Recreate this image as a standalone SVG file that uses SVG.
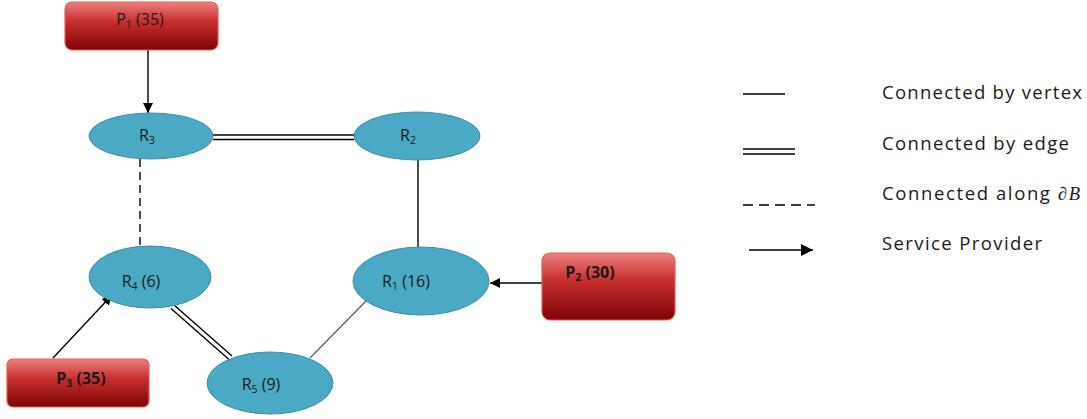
<svg xmlns="http://www.w3.org/2000/svg" width="1087" height="419" viewBox="0 0 1087 419">
<defs>
<linearGradient id="red" x1="0" y1="0" x2="0" y2="1">
<stop offset="0" stop-color="#ee8080"/>
<stop offset="0.4" stop-color="#c8302f"/>
<stop offset="1" stop-color="#7e0404"/>
</linearGradient>
<marker id="arr" viewBox="0 0 10 10" refX="10" refY="5" markerWidth="10" markerHeight="10" markerUnits="userSpaceOnUse" orient="auto">
<path d="M0,0 L10,5 L0,10 z" fill="#000"/>
</marker>
<marker id="arrL" viewBox="0 0 10 10" refX="10" refY="5" markerWidth="12" markerHeight="12" markerUnits="userSpaceOnUse" orient="auto">
<path d="M0,0 L10,5 L0,10 z" fill="#000"/>
</marker>
</defs>
<style>
.ell{fill:#4aaac6;stroke:#3b8ea8;stroke-width:1}
.box{fill:url(#red);stroke:#e85a5a;stroke-width:1.2}
.lbl{font-family:"Open Sans","Liberation Sans",sans-serif;font-size:16px;fill:#1a1a1a;text-anchor:middle}
.bold{font-weight:bold}
.ln{stroke:#000;stroke-width:1.4;fill:none}
.thin{stroke:#555;stroke-width:1.1;fill:none}
.leg{font-family:"Open Sans","Liberation Sans",sans-serif;font-size:18.5px;fill:#1a1a1a}
</style>
<rect width="1087" height="419" fill="#fff"/>

<g id="connectors">
<line class="ln" x1="148" y1="50" x2="148" y2="113" marker-end="url(#arr)"/>
<line class="ln" x1="213" y1="135" x2="354" y2="135"/>
<line class="ln" x1="213" y1="139.5" x2="354" y2="139.5"/>
<line class="ln" x1="140" y1="159" x2="140" y2="248" stroke-dasharray="8,5"/>
<line class="ln" x1="418" y1="160" x2="418" y2="248"/>
<line class="ln" x1="543" y1="283" x2="490" y2="283" marker-end="url(#arr)"/>
<line class="ln" x1="53" y1="358" x2="112" y2="295" marker-end="url(#arr)"/>
<line class="ln" x1="174" y1="305" x2="232" y2="356"/>
<line class="ln" x1="171" y1="308.5" x2="229" y2="359.5"/>
<line class="thin" x1="366" y1="301" x2="310" y2="358"/>
</g>

<g id="R3"><ellipse class="ell" cx="151" cy="136" rx="62" ry="23"/><text class="lbl" x="147" y="141">R<tspan font-size="10.5" dy="3">3</tspan></text></g>
<g id="R2"><ellipse class="ell" cx="417" cy="136" rx="63" ry="24"/><text class="lbl" x="408" y="141">R<tspan font-size="10.5" dy="3">2</tspan></text></g>
<g id="R4"><ellipse class="ell" cx="150" cy="277" rx="61" ry="31"/><text class="lbl" x="141" y="287">R<tspan font-size="10.5" dy="3">4</tspan><tspan dy="-3"> (6)</tspan></text></g>
<g id="R1"><ellipse class="ell" cx="421" cy="281" rx="68" ry="34"/><text class="lbl" x="406" y="287">R<tspan font-size="10.5" dy="3">1</tspan><tspan dy="-3"> (16)</tspan></text></g>
<g id="R5"><ellipse class="ell" cx="270" cy="383" rx="63" ry="31"/><text class="lbl" x="261" y="390">R<tspan font-size="10.5" dy="3">5</tspan><tspan dy="-3"> (9)</tspan></text></g>

<g id="P1"><rect class="box" x="65" y="2" width="153" height="48" rx="7"/><text class="lbl" x="140" y="25">P<tspan font-size="10.5" dy="3">1</tspan><tspan dy="-3"> (35)</tspan></text></g>
<g id="P2"><rect class="box" x="542" y="253" width="133" height="67" rx="8"/><text class="lbl bold" x="590" y="278">P<tspan font-size="10.5" dy="3">2</tspan><tspan dy="-3"> (30)</tspan></text></g>
<g id="P3"><rect class="box" x="7" y="359" width="142" height="48" rx="6"/><text class="lbl bold" x="81" y="384">P<tspan font-size="10.5" dy="3">3</tspan><tspan dy="-3"> (35)</tspan></text></g>

<g id="legend">
<line class="ln" x1="743" y1="94" x2="785" y2="94"/>
<text class="leg" x="882" y="99" textLength="200" lengthAdjust="spacing">Connected by vertex</text>
<line class="ln" x1="743" y1="149" x2="795" y2="149"/>
<line class="ln" x1="743" y1="154" x2="795" y2="154"/>
<text class="leg" x="882" y="150" textLength="187" lengthAdjust="spacing">Connected by edge</text>
<line class="ln" x1="743" y1="205" x2="815" y2="205" stroke-dasharray="10,6"/>
<text class="leg" x="882" y="200" textLength="198" lengthAdjust="spacing">Connected along <tspan font-family="'Liberation Serif',serif" font-style="italic">∂B</tspan></text>
<line class="ln" x1="749" y1="250" x2="813" y2="250" marker-end="url(#arrL)"/>
<text class="leg" x="882" y="250" textLength="160" lengthAdjust="spacing">Service Provider</text>
</g>
</svg>
